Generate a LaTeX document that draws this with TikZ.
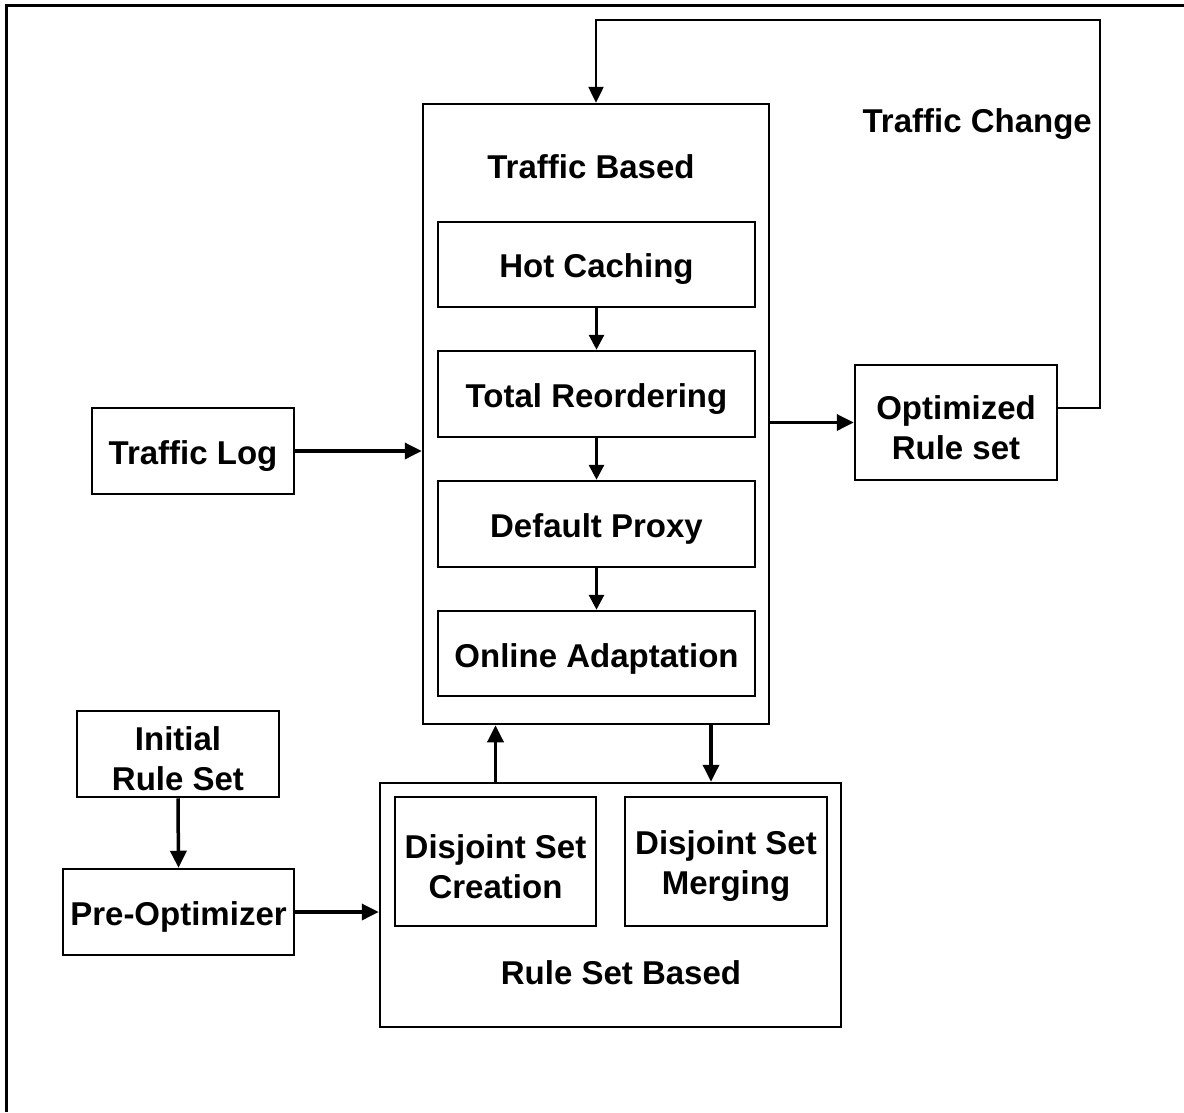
\documentclass[tikz,border=0pt]{standalone}
\usepackage{fontspec}
\setmainfont{Liberation Sans}
\usetikzlibrary{arrows.meta}
\begin{document}
\begin{tikzpicture}[x=1pt,y=1pt,
  lbl/.style={inner sep=0pt, align=center, font=\fontsize{33}{40}\selectfont\bfseries},
  box/.style={draw, line width=2.5pt, inner sep=0pt,
    label={[lbl, yshift=-5pt]center:#1}},
  arr/.style={line width=3.5pt, -{Triangle[length=17pt,width=16pt]}},
  sarr/.style={line width=3pt, -{Triangle[length=15pt,width=15pt]}}]
\useasboundingbox (0,0) rectangle (1184,-1112);
% outer frame (top and left only)
\draw[line width=3pt] (6,-1112) -- (6,-5) -- (1184,-5);
% big boxes
\node[draw, line width=2.5pt, inner sep=0pt, minimum width=346pt, minimum height=620pt] (tb) at (596,-414) {};
\node[lbl] (tbl) at (591,-167) {Traffic Based};
\node[box={Hot Caching}, minimum width=317pt, minimum height=85pt] (hot) at (596.5,-264.5) {};
\node[box={Total Reordering}, minimum width=317pt, minimum height=86pt] (tot) at (596.5,-394) {};
\node[box={Default Proxy}, minimum width=317pt, minimum height=86pt] (dp) at (596.5,-524) {};
\node[box={Online Adaptation}, minimum width=317pt, minimum height=85pt] (oa) at (596.5,-653.5) {};
\node[box={Traffic Log}, minimum width=202pt, minimum height=86pt] (log) at (193,-451) {};
\node[box={Optimized\\Rule set}, minimum width=202pt, minimum height=115pt] (opt) at (956,-422.5) {};
\node[lbl, anchor=east] (tc) at (1092,-124) {Traffic Change};
\node[box={Initial\\Rule Set}, minimum width=202pt, minimum height=86pt] (init) at (178,-754) {};
\node[box={Pre-Optimizer}, minimum width=231pt, minimum height=86pt] (pre) at (178.5,-912) {};
\node[draw, line width=2.5pt, inner sep=0pt, minimum width=461pt, minimum height=244pt] (rsb) at (610.5,-905) {};
\node[box={Disjoint Set\\Creation}, minimum width=201pt, minimum height=129pt] (dsc) at (495.5,-861.5) {};
\node[box={Disjoint Set\\Merging}, minimum width=202pt, minimum height=129pt] (dsm) at (726,-861.5) {};
\node[lbl] (rsbl) at (621,-973) {Rule Set Based};
% inner arrows
\draw[sarr] (hot.south) -- (tot.north);
\draw[sarr] (tot.south) -- (dp.north);
\draw[sarr] (dp.south) -- (oa.north);
% connectors
\draw[arr] (log.east) -- (log.east -| tb.west);
\draw[arr] (tb.east |- opt.west) -- (opt.west);
\coordinate (fb) at (1100,-20);
\draw[line width=2.5pt, -{Triangle[length=16pt,width=15pt]}] ([yshift=14.5pt]opt.east) -| (fb) -| (tb.north);
\draw[arr] (init.south) -- (pre.north);
\draw[arr] (pre.east) -- (pre.east -| rsb.west);
\draw[arr] (dsc.north |- rsb.north) -- (dsc.north |- tb.south);
\coordinate (d1) at (711,-724);
\draw[arr] (tb.south -| d1) -- (rsb.north -| d1);
\end{tikzpicture}
\end{document}
